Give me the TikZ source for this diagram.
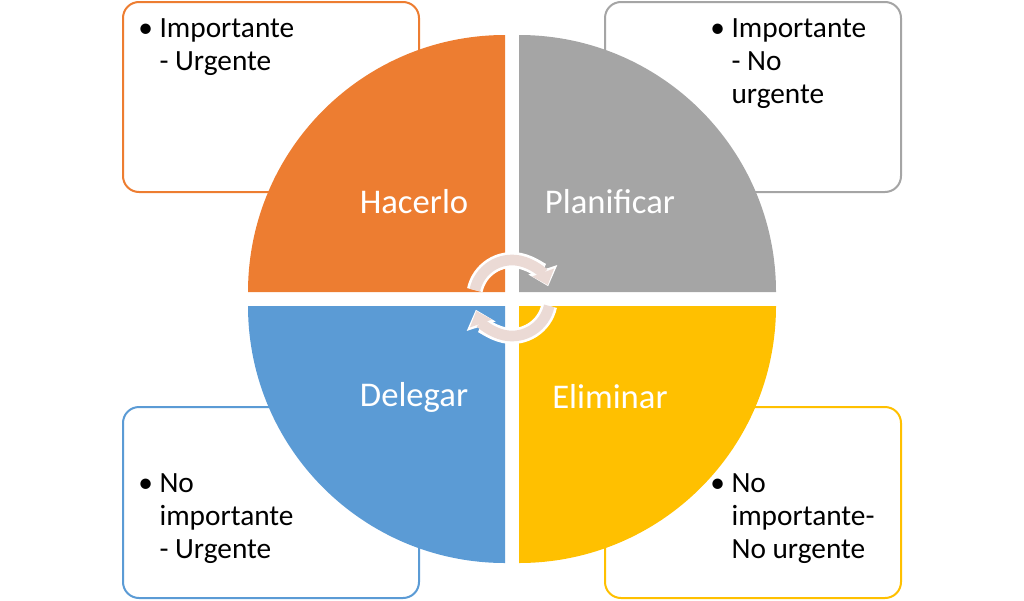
\documentclass[tikz,border=0pt]{standalone}
\usepackage{fontspec}
\setmainfont{Carlito}
\usetikzlibrary{arrows.meta}
\definecolor{cor}{HTML}{ED7D31}
\definecolor{cgr}{HTML}{A5A5A5}
\definecolor{cbl}{HTML}{5B9BD5}
\definecolor{cye}{HTML}{FFC000}
\definecolor{car}{HTML}{EBDAD5}
\newcommand{\bitem}[1]{\textbullet\hspace{5pt}\parbox[t]{130pt}{#1}}
\begin{document}
\begin{tikzpicture}[x=0.75pt,y=-0.75pt,
  box/.style={draw,line width=1.5pt,rounded corners=12pt,fill=white},
  lab/.style={text=white,font=\fontsize{26}{30}\selectfont},
  btxt/.style={anchor=north west,align=left,font=\fontsize{22}{25}\selectfont,inner sep=0pt}]
\useasboundingbox (0,0) rectangle (1024,600);
% boxes
\draw[box,draw=cor] (123,2) rectangle (419,192);
\draw[box,draw=cgr] (605,2) rectangle (901,192);
\draw[box,draw=cbl] (123,407) rectangle (419,598);
\draw[box,draw=cye] (605,407) rectangle (901,598);
% quadrants
\fill[cor] (505,292) -- (248,292) arc[start angle=180,end angle=270,radius=257] -- cycle;
\fill[cgr] (519,292) -- (519,35) arc[start angle=270,end angle=360,radius=257] -- cycle;
\fill[cbl] (505,306) -- (505,563) arc[start angle=90,end angle=180,radius=257] -- cycle;
\fill[cye] (519,306) -- (776,306) arc[start angle=0,end angle=90,radius=257] -- cycle;
% labels
\node[lab] (h) at (414,202) {Hacerlo};
\node[lab] (p) at (610,202) {Planificar};
\node[lab] (d) at (414,397) {Delegar};
\node[lab] (e) at (610,397) {Eliminar};
% box texts
\node[btxt] (t1) at (138,18) {\bitem{Importante\\- Urgente}};
\node[btxt] (t2) at (710,18) {\bitem{Importante\\- No\\urgente}};
\node[btxt] (t3) at (138,473) {\bitem{No\\importante\\- Urgente}};
\node[btxt] (t4) at (710,473) {\bitem{No\\importante-\\No urgente}};
% cycle arrows
\coordinate (c) at (512,298);
\foreach \s/\e in {192/342, 12/162}{
  \draw[white,line width=12pt,-{Triangle[length=13pt,width=22pt]}] (c) ++(\s:38) arc[start angle=\s,end angle=\e,radius=38];
  \draw[car,line width=8pt,-{Triangle[length=10pt,width=17pt]}] (c) ++(\s:38) arc[start angle=\s,end angle=\e-2,radius=38];
}
\end{tikzpicture}
\end{document}
